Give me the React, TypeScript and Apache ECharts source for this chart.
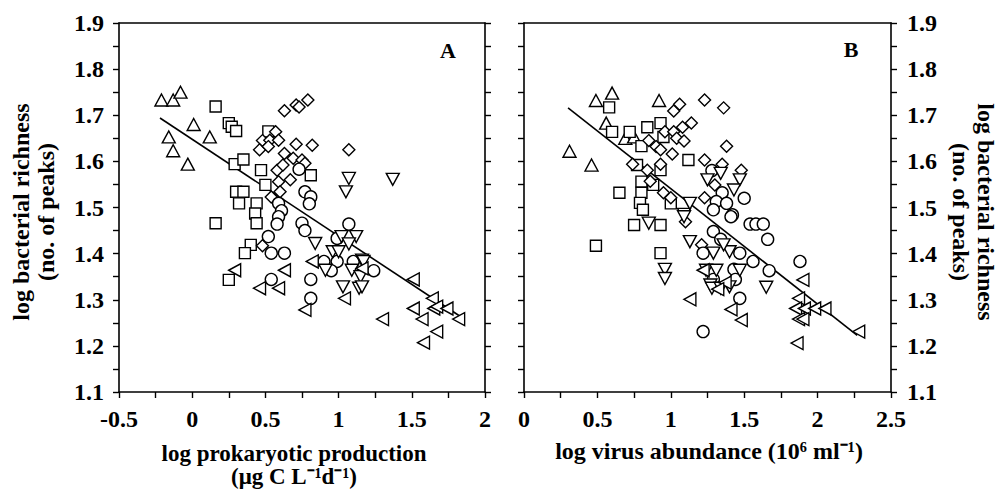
import React, { useEffect, useRef } from "react";
import * as echarts from "echarts";

// ---- axis ranges / tick labels ----
const xTicksA = [-0.5, 0, 0.5, 1, 1.5, 2];
const xTicksB = [0, 0.5, 1, 1.5, 2, 2.5];
const yTicks = [1.1, 1.2, 1.3, 1.4, 1.5, 1.6, 1.7, 1.8, 1.9];

const xTitleA1 = "log prokaryotic production";
const xTitleA2 = "(μg C L⁻¹d⁻¹)";
const xTitleB = "log virus abundance (10⁶ ml⁻¹)";
const yTitle1 = "log bacterial richness";
const yTitle2 = "(no. of peaks)";

// ---- Panel A data: [log prokaryotic production, log richness] ----
const aTriUp = [
  [-0.21, 1.733], [-0.13, 1.733], [-0.08, 1.75], [-0.16, 1.653], [-0.13, 1.623],
  [-0.03, 1.594], [0.01, 1.68], [0.12, 1.653],
];
const aSquare = [
  [0.16, 1.719], [0.25, 1.683], [0.27, 1.675], [0.3, 1.666], [0.29, 1.594],
  [0.35, 1.604], [0.47, 1.581], [0.5, 1.549], [0.3, 1.534], [0.35, 1.534],
  [0.32, 1.509], [0.44, 1.509], [0.43, 1.487], [0.44, 1.466], [0.16, 1.466],
  [0.4, 1.419], [0.36, 1.401], [0.25, 1.343], [0.81, 1.57], [0.52, 1.665],
];
const aDiamond = [
  [0.63, 1.71], [0.71, 1.722], [0.73, 1.718], [0.79, 1.733], [0.57, 1.664],
  [0.48, 1.645], [0.53, 1.646], [0.59, 1.646], [0.46, 1.625], [0.52, 1.632],
  [0.71, 1.637], [0.82, 1.635], [1.07, 1.625], [0.63, 1.617], [0.69, 1.607],
  [0.75, 1.603], [0.58, 1.581], [0.62, 1.592], [0.77, 1.596], [0.67, 1.56],
  [0.59, 1.556], [0.6, 1.534], [0.54, 1.523], [0.48, 1.417],
];
const aCircle = [
  [0.73, 1.583], [0.77, 1.534], [0.81, 1.523], [0.8, 1.508], [0.59, 1.509],
  [0.61, 1.493], [0.59, 1.48], [0.58, 1.464], [0.75, 1.466], [0.77, 1.45],
  [1.07, 1.464], [0.99, 1.433], [0.52, 1.437], [0.54, 1.401], [0.63, 1.401],
  [0.9, 1.383], [0.99, 1.383], [0.95, 1.363], [1.1, 1.383], [1.24, 1.363],
  [0.54, 1.344], [0.81, 1.344], [0.81, 1.303],
];
const aTriDown = [
  [1.07, 1.563], [1.05, 1.534], [1.37, 1.561], [0.84, 1.422], [1.12, 1.437],
  [1.02, 1.437], [1.07, 1.421], [0.96, 1.404], [1.0, 1.404], [1.16, 1.386],
  [0.91, 1.364], [1.09, 1.364], [1.15, 1.35], [1.03, 1.328], [1.14, 1.325],
  [1.16, 1.328], [1.17, 1.383],
];
const aTriLeft = [
  [0.29, 1.364], [0.63, 1.364], [0.46, 1.325], [0.59, 1.325], [0.82, 1.383],
  [0.77, 1.278], [1.04, 1.303], [1.3, 1.258], [1.16, 1.368], [1.51, 1.344],
  [1.64, 1.303], [1.51, 1.281], [1.65, 1.281], [1.67, 1.285], [1.74, 1.281],
  [1.82, 1.258], [1.57, 1.258], [1.67, 1.231], [1.58, 1.207],
];
const aFit = [[-0.22, 1.694], [1.84, 1.262]];

// ---- Panel B data: [log virus abundance, log richness] ----
const bTriUp = [
  [0.49, 1.732], [0.6, 1.748], [0.92, 1.732], [0.56, 1.683], [0.31, 1.622],
  [0.46, 1.592], [0.69, 1.65], [0.75, 1.653],
];
const bSquare = [
  [0.58, 1.717], [0.6, 1.664], [0.72, 1.664], [0.84, 1.674], [0.93, 1.683],
  [0.8, 1.633], [0.95, 1.653], [1.12, 1.603], [0.77, 1.592], [0.93, 1.581],
  [0.8, 1.556], [0.65, 1.532], [0.8, 1.532], [0.88, 1.549], [0.79, 1.51],
  [0.81, 1.495], [1.0, 1.509], [0.49, 1.417], [0.75, 1.462], [0.93, 1.462],
  [0.93, 1.401],
];
const bDiamond = [
  [1.02, 1.709], [1.06, 1.724], [1.23, 1.733], [1.14, 1.683], [0.96, 1.664],
  [1.02, 1.664], [1.08, 1.674], [0.85, 1.645], [1.04, 1.65], [1.09, 1.644],
  [0.9, 1.632], [0.93, 1.625], [1.01, 1.616], [1.23, 1.603], [0.74, 1.594],
  [0.84, 1.581], [0.93, 1.594], [0.86, 1.557], [0.95, 1.532], [1.0, 1.521],
  [1.23, 1.521], [1.36, 1.716], [1.38, 1.633], [1.35, 1.594], [1.48, 1.581],
  [1.3, 1.549], [1.1, 1.469], [1.21, 1.419],
];
const bCircle = [
  [1.28, 1.58], [1.35, 1.532], [1.5, 1.52], [1.31, 1.513], [1.38, 1.509],
  [1.29, 1.495], [1.42, 1.484], [1.41, 1.48], [1.54, 1.464], [1.58, 1.464],
  [1.63, 1.464], [1.66, 1.431], [1.29, 1.448], [1.34, 1.431], [1.22, 1.401],
  [1.47, 1.401], [1.56, 1.383], [1.43, 1.366], [1.67, 1.363], [1.29, 1.344],
  [1.44, 1.344], [1.47, 1.303], [1.88, 1.383], [1.22, 1.231],
];
const bTriDown = [
  [1.09, 1.485], [1.13, 1.509], [1.25, 1.56], [1.34, 1.574], [1.47, 1.56],
  [1.43, 1.538], [0.85, 1.466], [0.96, 1.366], [0.96, 1.346], [1.09, 1.48],
  [1.13, 1.426], [1.27, 1.332], [1.29, 1.401], [1.4, 1.404], [1.24, 1.364],
  [1.31, 1.364], [1.28, 1.325], [1.34, 1.325], [1.4, 1.328], [1.65, 1.327],
  [1.36, 1.419], [1.47, 1.364],
];
const bTriLeft = [
  [1.13, 1.301], [1.22, 1.364], [1.37, 1.337], [1.41, 1.279], [1.48, 1.256],
  [1.9, 1.343], [1.87, 1.303], [1.85, 1.281], [1.91, 1.281], [1.87, 1.258],
  [1.9, 1.258], [1.98, 1.281], [2.05, 1.281], [1.86, 1.206], [2.28, 1.231],
  [1.32, 1.323],
];
const bFit = [[0.3, 1.716], [2.27, 1.223]];

const FONT = "'Liberation Serif', 'Times New Roman', Times, serif";
const BLACK = "#000";

function scatter(data: number[][], gi: number, symbol: string, rotate: number, size: any) {
  return {
    type: "scatter",
    xAxisIndex: gi * 2,
    yAxisIndex: gi * 2,
    data,
    symbol,
    symbolRotate: rotate,
    symbolSize: size,
    silent: true,
    z: 3,
    itemStyle: { color: "#fff", borderColor: BLACK, borderWidth: 1.4, opacity: 1 },
  };
}

function fitLine(data: number[][], gi: number) {
  return {
    type: "line",
    xAxisIndex: gi * 2,
    yAxisIndex: gi * 2,
    data,
    showSymbol: false,
    symbol: "none",
    silent: true,
    z: 2,
    lineStyle: { color: BLACK, width: 1.6 },
  };
}

const labelStyle = {
  fontFamily: FONT,
  fontWeight: "bold",
  fontSize: 24,
  color: BLACK,
};

function xAxisPair(gi: number, ticks: number[]) {
  const min = ticks[0];
  const max = ticks[ticks.length - 1];
  const interval = ticks[1] - ticks[0];
  return [
    {
      type: "value",
      gridIndex: gi,
      position: "bottom",
      min,
      max,
      interval,
      axisLine: { show: true, onZero: false, lineStyle: { color: BLACK, width: 1.6 } },
      axisTick: { show: true, length: 6, lineStyle: { color: BLACK, width: 1.4 } },
      minorTick: { show: true, splitNumber: 2, length: 6, lineStyle: { color: BLACK, width: 1.4 } },
      splitLine: { show: false },
      minorSplitLine: { show: false },
      axisLabel: { ...labelStyle, margin: 15, formatter: (v: number) => String(+v.toFixed(2)) },
    },
    {
      type: "value",
      gridIndex: gi,
      position: "top",
      min,
      max,
      interval,
      axisLine: { show: true, onZero: false, lineStyle: { color: BLACK, width: 1.6 } },
      axisTick: { show: false },
      splitLine: { show: false },
      axisLabel: { show: false },
    },
  ];
}

function yAxisPair(gi: number, labelSide: "left" | "right") {
  const min = yTicks[0];
  const max = yTicks[yTicks.length - 1];
  const mk = (pos: "left" | "right") => ({
    type: "value",
    gridIndex: gi,
    position: pos,
    min,
    max,
    interval: 0.1,
    axisLine: { show: true, onZero: false, lineStyle: { color: BLACK, width: 1.6 } },
    axisTick: { show: true, length: 6, lineStyle: { color: BLACK, width: 1.4 } },
    minorTick: { show: true, splitNumber: 2, length: 6, lineStyle: { color: BLACK, width: 1.4 } },
    splitLine: { show: false },
    minorSplitLine: { show: false },
    axisLabel:
      pos === labelSide
        ? { ...labelStyle, margin: pos === "left" ? 15 : 16, formatter: (v: number) => v.toFixed(1) }
        : { show: false },
  });
  return [mk("left"), mk("right")];
}

export default function App() {
  const ref = useRef<HTMLDivElement>(null);

  useEffect(() => {
    if (!ref.current) return;
    const chart = echarts.init(ref.current, null, { renderer: "svg" });
    const titleStyle = {
      fontFamily: FONT,
      fontWeight: "bold",
      fontSize: 24,
      fill: BLACK,
      textAlign: "center",
      textVerticalAlign: "middle",
    };
    const option = {
      animation: false,
      backgroundColor: "#fff",
      grid: [
        { left: 119, top: 23, width: 366, height: 369, containLabel: false },
        { left: 524, top: 23, width: 367, height: 369, containLabel: false },
      ],
      xAxis: [...xAxisPair(0, xTicksA), ...xAxisPair(1, xTicksB)],
      yAxis: [...yAxisPair(0, "left"), ...yAxisPair(1, "right")],
      series: [
        fitLine(aFit, 0),
        scatter(aTriUp, 0, "triangle", 0, [13, 12]),
        scatter(aSquare, 0, "rect", 0, 11),
        scatter(aDiamond, 0, "diamond", 0, 12),
        scatter(aCircle, 0, "circle", 0, 12),
        scatter(aTriDown, 0, "triangle", 180, [13, 12]),
        scatter(aTriLeft, 0, "triangle", 90, [13, 12]),
        fitLine(bFit, 1),
        scatter(bTriUp, 1, "triangle", 0, [13, 12]),
        scatter(bSquare, 1, "rect", 0, 11),
        scatter(bDiamond, 1, "diamond", 0, 12),
        scatter(bCircle, 1, "circle", 0, 12),
        scatter(bTriDown, 1, "triangle", 180, [13, 12]),
        scatter(bTriLeft, 1, "triangle", 90, [13, 12]),
      ],
      graphic: [
        { type: "text", x: 448, y: 50, style: { ...titleStyle, fontSize: 22, text: "A" } },
        { type: "text", x: 851, y: 49, style: { ...titleStyle, fontSize: 22, text: "B" } },
        {
          type: "text",
          x: 294,
          y: 465,
          style: { ...titleStyle, fontSize: 23, lineHeight: 23, text: xTitleA1 + "\n" + xTitleA2 },
        },
        { type: "text", x: 709, y: 451, style: { ...titleStyle, text: xTitleB } },
        { type: "text", x: 21, y: 212, rotation: Math.PI / 2, style: { ...titleStyle, text: yTitle1 } },
        { type: "text", x: 46, y: 212, rotation: Math.PI / 2, style: { ...titleStyle, text: yTitle2 } },
        { type: "text", x: 986, y: 212, rotation: -Math.PI / 2, style: { ...titleStyle, text: yTitle1 } },
        { type: "text", x: 961, y: 212, rotation: -Math.PI / 2, style: { ...titleStyle, text: yTitle2 } },
      ],
    };
    chart.setOption(option as any);
    return () => chart.dispose();
  }, []);

  return (
    <div
      ref={ref}
      style={{ position: "fixed", left: 0, top: 0, width: 1002, height: 489, background: "#fff" }}
    />
  );
}
